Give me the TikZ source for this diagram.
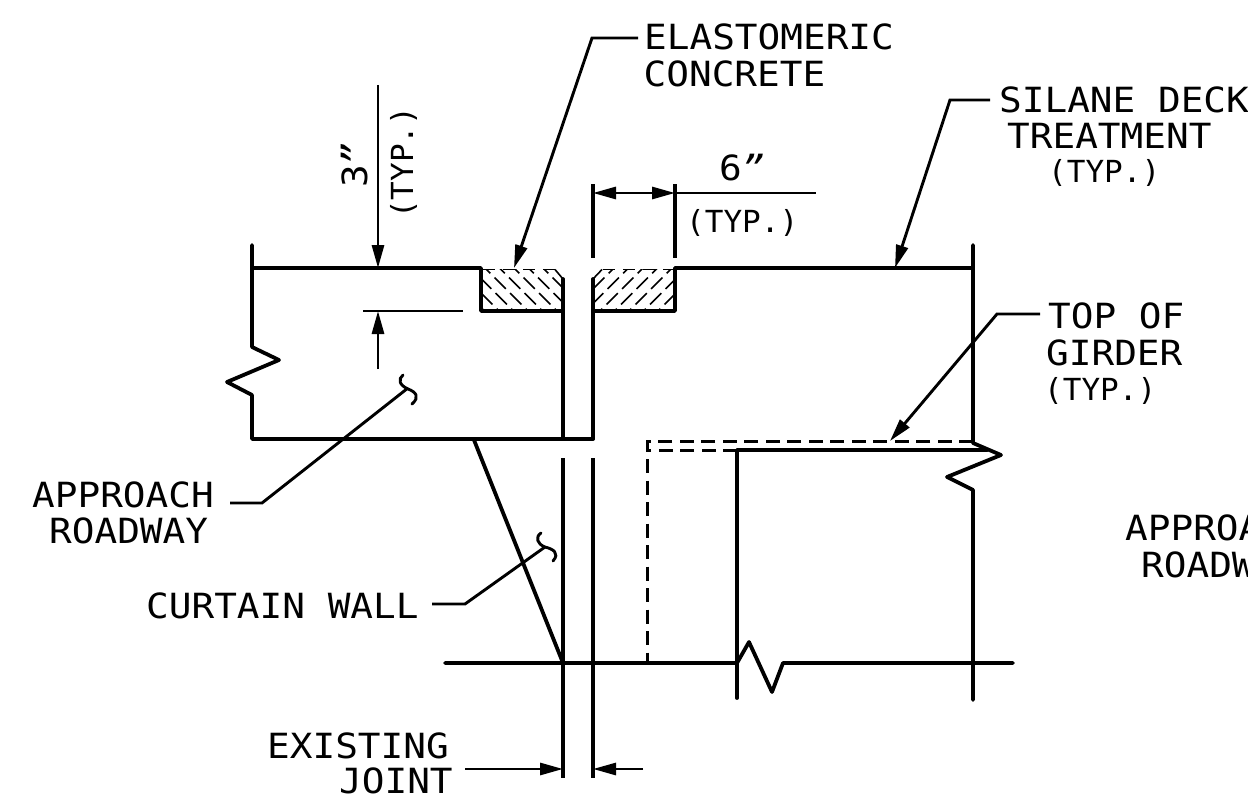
\documentclass[tikz,border=0pt]{standalone}
\usepackage{fontspec}
\usepackage{graphicx}
\setmainfont{DejaVu Sans Mono}
\usetikzlibrary{arrows.meta}
\newcommand{\bigt}[1]{\scalebox{1}[0.92]{\fontsize{37.7}{38}\selectfont #1}}
\newcommand{\smallt}[1]{\scalebox{1}[0.98]{\fontsize{31}{32}\selectfont #1}}
\newcommand{\dq}{{\itshape"}}
\tikzset{
  heavy/.style={line width=3.8pt,line cap=round,line join=round},
  light/.style={line width=3.1pt},
  thin line/.style={line width=2.9pt},
  hatchline/.style={line width=1.6pt,dash pattern=on 16pt off 6pt},
  edge dash/.style={line width=1.6pt,dash pattern=on 12pt off 8pt},
  dashline/.style={line width=3pt,dash pattern=on 14pt off 7.5pt},
  tip/.style={-{Triangle[length=23pt,width=12pt]}},
  lab/.style={inner sep=0pt,anchor=base west}
}
\begin{document}
\begin{tikzpicture}[x=1pt,y=-1pt]
\useasboundingbox (0,0) rectangle (1248,808);
% hatching
\begin{scope}
\clip (481,269) -- (555,269) -- (563,279) -- (563,311) -- (481,311) -- cycle;
\foreach \k in {-60,-45.5,...,90}
  \draw[hatchline] (481+\k,262) -- (481+\k+58,320);
\end{scope}
\begin{scope}
\clip (602,269) -- (675,269) -- (675,311) -- (593,311) -- (593,279) -- cycle;
\foreach \k in {-60,-45.5,...,90}
  \draw[hatchline] (593+\k,320) -- (593+\k+58,262);
\end{scope}
\draw[edge dash] (483,269.5) -- (555,269.5) ;
\draw[line width=1.6pt] (555,269.5) -- (563,279);
\draw[edge dash] (603,269.5) -- (675,269.5);
\draw[line width=1.6pt] (602,269.5) -- (593,279);
% left deck
\draw[heavy] (252,245) -- (252,347) -- (279,360) -- (227,382) -- (252,395) -- (252,439) -- (593,439);
\draw[heavy] (252,268) -- (481,268) -- (481,311) -- (563,311);
\draw[heavy] (563,279) -- (563,439);
\draw[heavy] (593,279) -- (593,439);
\draw[heavy] (593,311) -- (675,311) -- (675,268) -- (973,268);
% right deck
\draw[heavy] (973,245) -- (973,443) -- (1001,455) -- (947,477) -- (973,490) -- (973,700);
\draw[heavy] (737,698) -- (737,450) -- (987,450);
\draw[dashline] (973,441) -- (647,441) -- (647,663);
\draw[dashline] (737,450) -- (647,450);
\draw[heavy] (445,663) -- (737,663) -- (749,642) -- (772,692) -- (783,663) -- (1013,663);
\draw[heavy] (474,440) -- (563,663);
% joint lines
\draw[light] (563,458) -- (563,778);
\draw[light] (593,458) -- (593,778);
\draw[light] (593,184) -- (593,258);
\draw[light] (675,184) -- (675,258);
% dimensions
\draw[thin line,{Triangle[length=23pt,width=12pt]}-{Triangle[length=23pt,width=12pt]}] (593,193) -- (675,193);
\draw[thin line] (675,193) -- (816,193);
\draw[thin line,tip] (378,85) -- (378,268);
\draw[thin line,tip] (378,369) -- (378,311);
\draw[thin line] (363,311) -- (463,311);
\draw[thin line,tip] (465,769) -- (563,769);
\draw[thin line,tip] (643,769) -- (593,769);
% labels
\node[lab] (a1) at (644,50) {\bigt{ELASTOMERIC}};
\node[lab] (a2) at (643.5,87) {\bigt{CONCRETE}};
\node[lab] (b1) at (999,112) {\bigt{SILANE DECK}};
\node[lab] (b2) at (1007,148) {\bigt{TREATMENT}};
\node[lab] (b3) at (1048,182) {\smallt{(TYP.)}};
\node[lab] (c1) at (1048,328) {\bigt{TOP OF}};
\node[lab] (c2) at (1046,365) {\bigt{GIRDER}};
\node[lab] (c3) at (1044,400) {\smallt{(TYP.)}};
\node[lab] (d1) at (32,507) {\bigt{APPROACH}};
\node[lab] (d2) at (49,543) {\bigt{ROADWAY}};
\node[lab] (e1) at (146,618) {\bigt{CURTAIN WALL}};
\node[lab] (f1) at (267,758) {\bigt{EXISTING}};
\node[lab] (f2) at (339,793) {\bigt{JOINT}};
\node[lab] (g1) at (1125,540) {\bigt{APPROACH}};
\node[lab] (g2) at (1141,577) {\bigt{ROADWAY}};
\node[lab] (h1) at (719,180) {\bigt{6\dq}};
\node[lab] (h2) at (686,232) {\smallt{(TYP.)}};
\node[lab,rotate=90] (i1) at (367,188) {\bigt{3\dq}};
\node[lab,rotate=90] (i2) at (413,219) {\smallt{(TYP.)}};
% leaders
\draw[thin line,tip] (a1.west |- 0,38) ++(-6,0) -- (592,38) -- (514,268);
\draw[thin line,tip] (990,100) -- (950,100) -- (895,268);
\draw[thin line,tip] (1040,314) -- (997,314) -- (890,441);
\draw[thin line] (230,503) -- (262,503) -- (408,388);
\draw[thin line,line cap=round] (403,375) .. controls (398,379) and (399,385) .. (408,389) .. controls (416,392) and (420,397) .. (412,404);
\draw[thin line] (432,604) -- (465,604) -- (545,547);
\draw[thin line,line cap=round] (541,533) .. controls (535,537) and (537,544) .. (545,547) .. controls (553,549) and (560,553) .. (553,561);
\end{tikzpicture}
\end{document}
